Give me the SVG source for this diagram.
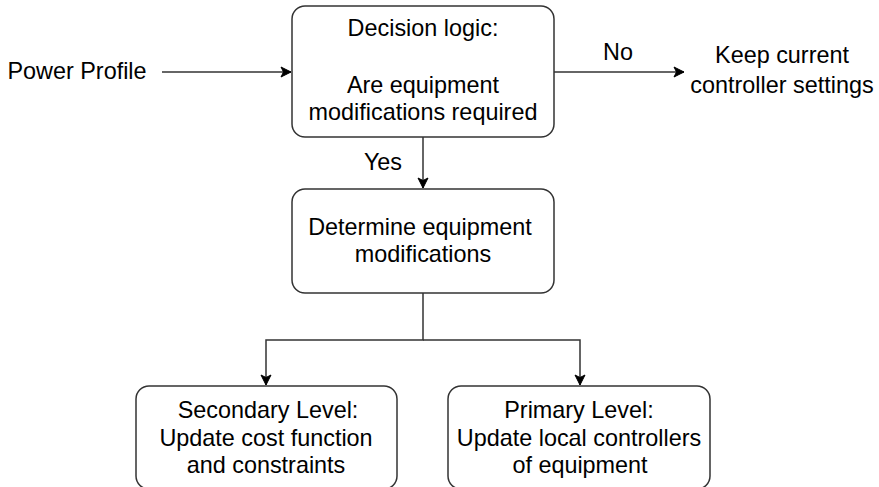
<svg xmlns="http://www.w3.org/2000/svg" width="879" height="487" viewBox="0 0 879 487">
  <style>
    .box { fill: #ffffff; stroke: #333333; stroke-width: 1.5; }
    .edge { fill: none; stroke: #333333; stroke-width: 1.5; }
    text { font-family: "Liberation Sans", Arial, sans-serif; font-size: 23.4px; fill: #000000; text-anchor: middle; }
  </style>
  <defs>
    <marker id="arrow" markerUnits="userSpaceOnUse" markerWidth="12" markerHeight="12" viewBox="0 0 12 12" refX="11" refY="6" orient="auto">
      <path d="M1,1 L11,6 L1,11 L3.5,6 Z" fill="#000000" stroke="#000000" stroke-width="1"/>
    </marker>
  </defs>
  <rect width="879" height="487" fill="#ffffff"/>

  <g id="connectors">
    <path class="edge" d="M162,72 L291,72" marker-end="url(#arrow)"/>
    <path class="edge" d="M554,72 L684,72" marker-end="url(#arrow)"/>
    <path class="edge" d="M423,137 L423,188" marker-end="url(#arrow)"/>
    <path class="edge" d="M423,293 L423,340 L266,340 L266,385" marker-end="url(#arrow)"/>
    <path class="edge" d="M423,340 L580,340 L580,385" marker-end="url(#arrow)"/>
    <text x="618" y="60">No</text>
    <text x="383" y="170">Yes</text>
  </g>

  <g id="power-profile">
    <text x="77" y="79">Power Profile</text>
  </g>

  <g id="decision">
    <rect class="box" x="292" y="6" width="262" height="131" rx="13" ry="13"/>
    <text x="423" y="36">Decision logic:</text>
    <text x="423" y="93">Are equipment</text>
    <text x="423" y="120">modifications required</text>
  </g>

  <g id="keep-settings">
    <text x="782" y="63">Keep current</text>
    <text x="782" y="93">controller settings</text>
  </g>

  <g id="determine">
    <rect class="box" x="292" y="189" width="262" height="104" rx="13" ry="13"/>
    <text x="420" y="235">Determine equipment</text>
    <text x="423" y="262">modifications</text>
  </g>

  <g id="secondary">
    <rect class="box" x="136" y="386" width="261" height="103" rx="13" ry="13"/>
    <text x="268" y="418">Secondary Level:</text>
    <text x="266" y="446">Update cost function</text>
    <text x="266" y="473">and constraints</text>
  </g>

  <g id="primary">
    <rect class="box" x="448" y="386" width="262" height="103" rx="13" ry="13"/>
    <text x="579" y="418">Primary Level:</text>
    <text x="579" y="446">Update local controllers</text>
    <text x="580" y="473">of equipment</text>
  </g>
</svg>
